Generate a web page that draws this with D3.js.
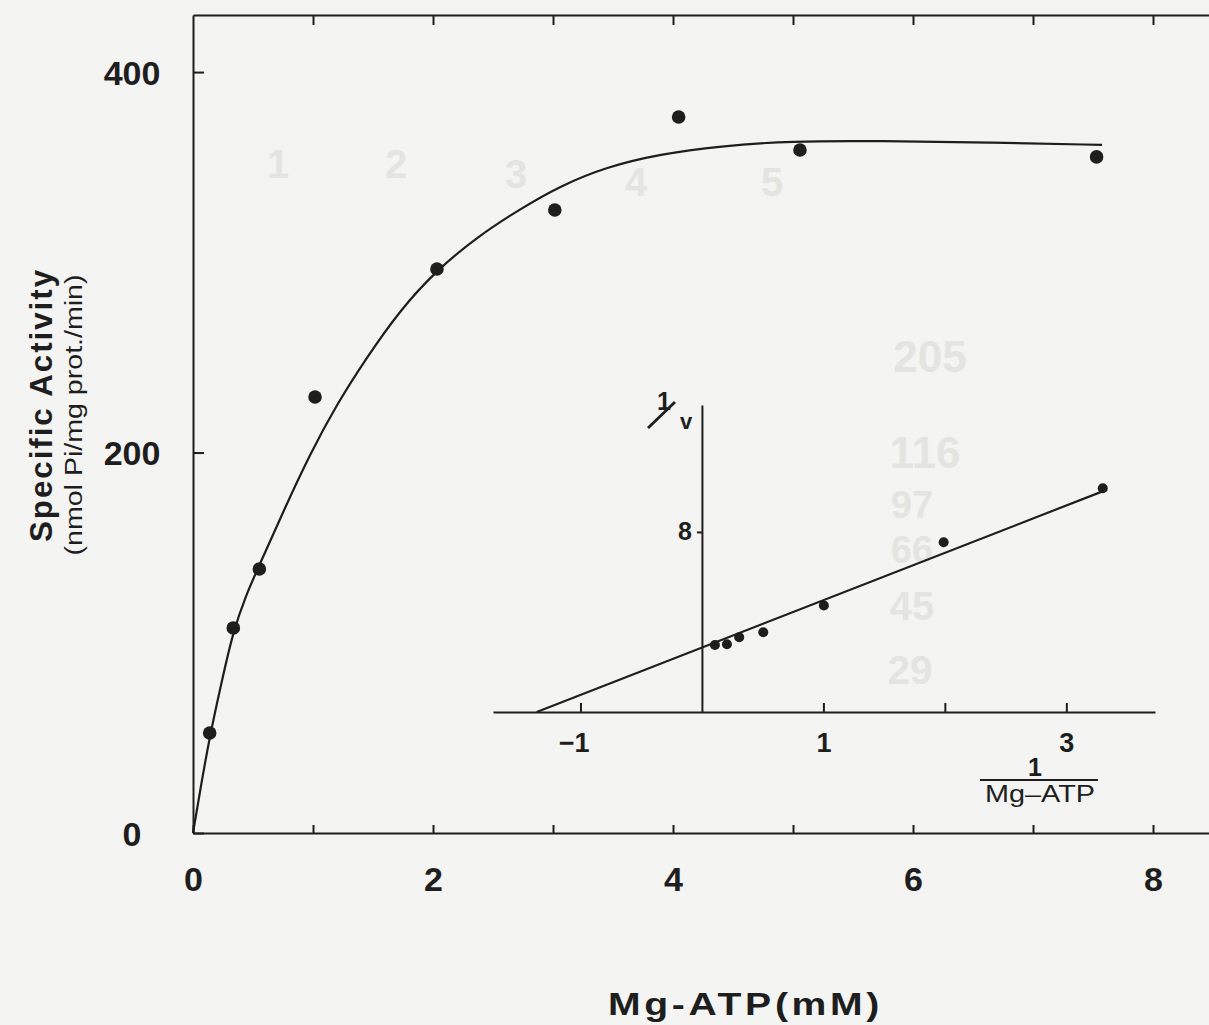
<html>
<head>
<meta charset="utf-8">
<script type="text/javascript" src="https://cdn.jsdelivr.net/npm/d3@7/dist/d3.min.js"></script>
<style>
    body { margin: 0; background: #f4f4f2; }
    text { font-family: "Liberation Sans", Arial, sans-serif; fill: #1e1e1e; }
    .axis path, .axis line { stroke: #1e1e1e; stroke-width: 2; }
    .axis text { font-weight: bold; }
    .ghost { fill: #e4e4e1; font-weight: bold; }
</style>
</head>
<body>
<script>
// main plot: Mg-ATP (mM) vs specific activity
var mgAtp    = [0.139, 0.336, 0.553, 1.017, 2.033, 3.015, 4.047, 5.058, 7.53];
var activity = [52.6, 107.8, 138.8, 229.2, 296.5, 327.5, 376.4, 359.0, 355.4];

// hand drawn saturation curve
var curveX = [0, 0.067, 0.142, 0.233, 0.333, 0.442, 0.55, 0.758, 0.975, 1.2, 1.433, 1.725, 2.033, 2.367, 2.725, 3.058, 3.442, 3.892, 4.392, 4.975, 5.725, 6.642, 7.575];
var curveY = [0, 25.2, 51.5, 77.8, 105.7, 125.1, 140.4, 169.8, 199.2, 225.5, 248.6, 274.9, 296.0, 313.3, 328.0, 340.1, 350.1, 356.9, 361.1, 363.8, 363.8, 363.0, 361.7];

var xTicks = [0, 1, 2, 3, 4, 5, 6, 7, 8];
var xLabels = [0, 2, 4, 6, 8];
var yTicks = [0, 200, 400];

// inset: double reciprocal plot
var invS = [0.107, 0.206, 0.307, 0.505, 1.004, 1.99, 3.30];
var invV = [2.98, 3.01, 3.32, 3.54, 4.73, 7.54, 9.94];
var fitX = [-1.36, 3.33];
var fitY = [0, 9.87];
var insetXTicks = [-1, 1, 2, 3];
var insetXLabels = [-1, 1, 3];
var insetYTicks = [8];

// show-through from the back of the page
var ghostLabels = [
    ["1", 278, 178, 40], ["2", 396, 178, 40], ["3", 516, 188, 40], ["4", 636, 196, 40], ["5", 772, 196, 40],
    ["205", 930, 372, 44], ["116", 925, 468, 44], ["97", 912, 518, 38], ["66", 912, 563, 38], ["45", 912, 620, 40], ["29", 910, 684, 40]
];

var width = 1209, height = 1025;

var svg = d3.select("body").append("svg")
    .attr("width", width)
    .attr("height", height);

svg.append("rect")
    .attr("width", width)
    .attr("height", height)
    .attr("fill", "#f4f4f2");

svg.append("g")
    .selectAll("text")
    .data(ghostLabels)
    .enter().append("text")
        .attr("class", "ghost")
        .attr("x", function(d) { return d[1]; })
        .attr("y", function(d) { return d[2]; })
        .attr("text-anchor", "middle")
        .attr("font-size", function(d) { return d[3]; })
        .text(function(d) { return d[0]; });

var x = d3.scaleLinear().domain([0, 8.4667]).range([193, 1209]);
var y = d3.scaleLinear().domain([0, 430]).range([833, 15]);

// bottom axis
var gx = svg.append("g")
    .attr("class", "axis")
    .attr("transform", "translate(0," + y(0) + ")")
    .call(d3.axisBottom(x)
        .tickValues(xTicks)
        .tickSizeInner(-8)
        .tickSizeOuter(0)
        .tickPadding(34)
        .tickFormat(function(d) { return xLabels.indexOf(d) >= 0 ? d : ""; }));
gx.selectAll("text").attr("font-size", 34);

// top frame line with ticks
svg.append("g")
    .attr("class", "axis")
    .attr("transform", "translate(0," + y(430) + ")")
    .call(d3.axisTop(x)
        .tickValues(xTicks.slice(1))
        .tickSizeInner(-10)
        .tickSizeOuter(0)
        .tickFormat(""));

// left axis
var gy = svg.append("g")
    .attr("class", "axis")
    .attr("transform", "translate(" + x(0) + ",0)")
    .call(d3.axisLeft(y)
        .tickValues(yTicks)
        .tickSizeInner(-11)
        .tickSizeOuter(0));
gy.selectAll("text")
    .attr("font-size", 34)
    .attr("text-anchor", "middle")
    .attr("x", -61)
    .attr("dy", "0.36em");

// curve + points
var line = d3.line()
    .x(function(d) { return x(d[0]); })
    .y(function(d) { return y(d[1]); })
    .curve(d3.curveBasis);

svg.append("path")
    .datum(d3.zip(curveX, curveY))
    .attr("d", line)
    .attr("fill", "none")
    .attr("stroke", "#1e1e1e")
    .attr("stroke-width", 2.2);

svg.append("g")
    .selectAll("circle")
    .data(d3.zip(mgAtp, activity))
    .enter().append("circle")
        .attr("cx", function(d) { return x(d[0]); })
        .attr("cy", function(d) { return y(d[1]); })
        .attr("r", 6.8)
        .attr("fill", "#1e1e1e");

// axis titles
svg.append("text")
    .attr("x", 608)
    .attr("y", 1015)
    .attr("font-size", 32)
    .attr("font-weight", "bold")
    .attr("letter-spacing", 3)
    .attr("textLength", 275)
    .attr("lengthAdjust", "spacingAndGlyphs")
    .text("Mg-ATP(mM)");

svg.append("text")
    .attr("transform", "translate(52,405) rotate(-90)")
    .attr("text-anchor", "middle")
    .attr("font-size", 32)
    .attr("font-weight", "bold")
    .attr("letter-spacing", 2)
    .attr("textLength", 274)
    .attr("lengthAdjust", "spacingAndGlyphs")
    .text("Specific  Activity");

svg.append("text")
    .attr("transform", "translate(82,415) rotate(-90)")
    .attr("text-anchor", "middle")
    .attr("font-size", 23)
    .attr("textLength", 281)
    .attr("lengthAdjust", "spacingAndGlyphs")
    .text("(nmol Pi/mg prot./min)");

// ---- inset ----
var ix = d3.scaleLinear().domain([-1.72, 3.73]).range([493, 1155]);
var iy = d3.scaleLinear().domain([0, 13.64]).range([712, 405]);

var igx = svg.append("g")
    .attr("class", "axis")
    .attr("transform", "translate(0," + iy(0) + ")")
    .call(d3.axisBottom(ix)
        .tickValues(insetXTicks)
        .tickSizeInner(-9)
        .tickSizeOuter(0)
        .tickPadding(21)
        .tickFormat(function(d) {
            if (insetXLabels.indexOf(d) < 0) return "";
            return d < 0 ? "\u2212" + Math.abs(d) : d;
        }));
igx.selectAll("text")
    .attr("font-size", 27)
    .attr("dx", function(d) { return d < 0 ? "-0.25em" : 0; });

var igy = svg.append("g")
    .attr("class", "axis")
    .attr("transform", "translate(" + ix(0) + ",0)")
    .call(d3.axisLeft(iy)
        .tickValues(insetYTicks)
        .tickSizeInner(5)
        .tickSizeOuter(0)
        .tickPadding(5));
igy.selectAll("text")
    .attr("font-size", 25);

var iline = d3.line()
    .x(function(d) { return ix(d[0]); })
    .y(function(d) { return iy(d[1]); });

svg.append("path")
    .datum(d3.zip(fitX, fitY))
    .attr("d", iline)
    .attr("fill", "none")
    .attr("stroke", "#1e1e1e")
    .attr("stroke-width", 2.2);

svg.append("g")
    .selectAll("circle")
    .data(d3.zip(invS, invV))
    .enter().append("circle")
        .attr("cx", function(d) { return ix(d[0]); })
        .attr("cy", function(d) { return iy(d[1]); })
        .attr("r", 5)
        .attr("fill", "#1e1e1e");

// 1/v label
var lv = svg.append("g");
lv.append("text")
    .attr("x", 664).attr("y", 410)
    .attr("text-anchor", "middle")
    .attr("font-size", 25)
    .attr("font-weight", "bold")
    .text("1");
lv.append("line")
    .attr("x1", 648).attr("y1", 428)
    .attr("x2", 675).attr("y2", 402)
    .attr("stroke", "#1e1e1e")
    .attr("stroke-width", 2.8);
lv.append("text")
    .attr("x", 686).attr("y", 429)
    .attr("text-anchor", "middle")
    .attr("font-size", 22)
    .attr("font-weight", "bold")
    .text("v");

// 1 / Mg-ATP label
var fr = svg.append("g");
fr.append("text")
    .attr("x", 1035).attr("y", 776)
    .attr("text-anchor", "middle")
    .attr("font-size", 25)
    .attr("font-weight", "bold")
    .text("1");
fr.append("line")
    .attr("x1", 980).attr("y1", 780)
    .attr("x2", 1098).attr("y2", 780)
    .attr("stroke", "#1e1e1e")
    .attr("stroke-width", 2);
fr.append("text")
    .attr("x", 985).attr("y", 802)
    .attr("font-size", 23)
    .attr("textLength", 110)
    .attr("lengthAdjust", "spacingAndGlyphs")
    .text("Mg\u2013ATP");
</script>
</body>
</html>
